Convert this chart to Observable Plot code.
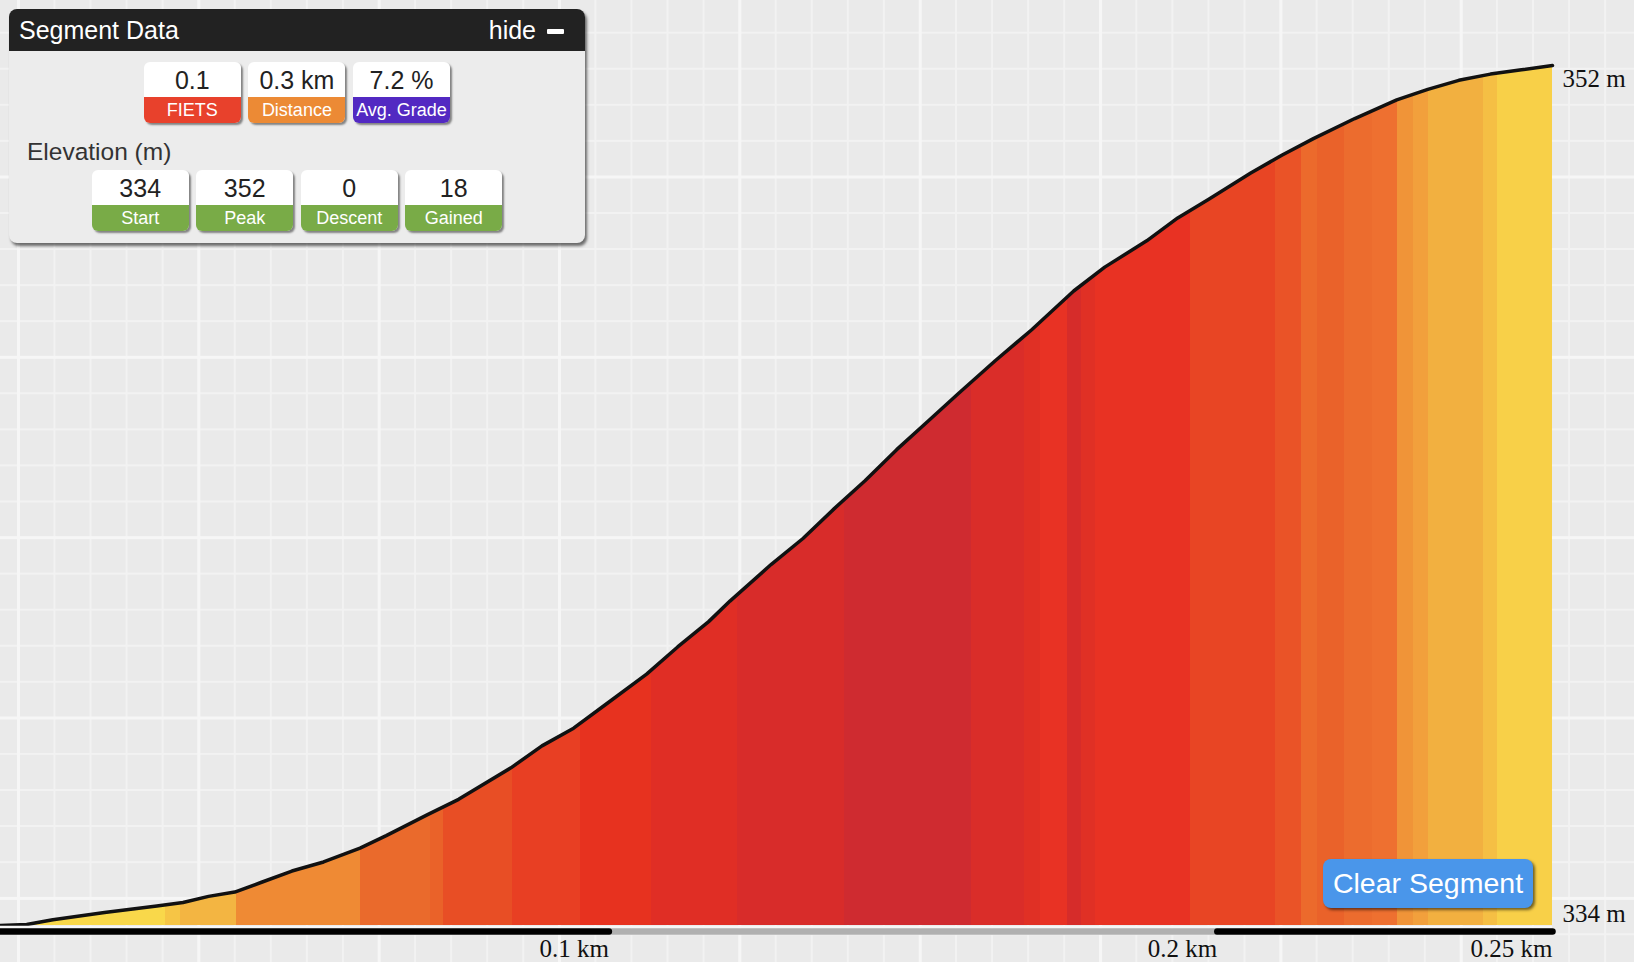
<!DOCTYPE html>
<html>
<head>
<meta charset="utf-8">
<script src="https://cdn.jsdelivr.net/npm/d3@7"></script>
<script src="https://cdn.jsdelivr.net/npm/@observablehq/plot@0.6"></script>
<style>
  html, body { margin: 0; padding: 0; overflow: hidden; }
  body {
    width: 1634px; height: 962px; position: relative;
    background-color: #eaeaea;
    background-image:
      linear-gradient(to right, #f6f6f6 0 3px, transparent 3px),
      linear-gradient(to bottom, #f6f6f6 0 3px, transparent 3px),
      linear-gradient(to right, #f2f2f2 0 2px, transparent 2px),
      linear-gradient(to bottom, #f2f2f2 0 2px, transparent 2px);
    background-size: 180.35px 100%, 100% 180.35px, 36.07px 100%, 100% 36.07px;
    background-position: 17px 0, 0 175.5px, 17.4px 0, 0 31.7px;
    font-family: "Liberation Sans", Arial, sans-serif;
  }
  #chart { position: absolute; left: 0; top: 0; }
  #panel {
    position: absolute; left: 9px; top: 9px; width: 576px; height: 234px;
    background: #ececec; border-radius: 8px;
    box-shadow: 2px 3px 3px rgba(0,0,0,0.55);
  }
  #panel .head {
    height: 42px; background: #222; border-radius: 8px 8px 0 0; color: #fff;
    font-size: 25px; line-height: 43px; padding-left: 10px; position: relative;
  }
  #panel .hide { position: absolute; right: 49px; top: 0; }
  #panel .minus { position: absolute; right: 21px; top: 20px; width: 17px; height: 5px; background: #fff; border-radius: 1px; }
  #panel .elev { position: absolute; left: 18px; top: 129px; font-size: 24.5px; color: #333; }
  .badge {
    position: absolute; width: 97px; border-radius: 6px; overflow: hidden;
    box-shadow: 2px 2px 2px rgba(0,0,0,0.45); text-align: center;
  }
  .badge .v { background: #fff; height: 35px; line-height: 36px; font-size: 25px; color: #222; }
  .badge .l { height: 26px; line-height: 27px; font-size: 18px; color: #fff; }
  #clear {
    position: absolute; left: 1323px; top: 859px; width: 210px; height: 49px;
    background: #4a96ea; color: #fff; border-radius: 8px; font-size: 28.5px;
    line-height: 49px; text-align: center; box-shadow: 2px 2px 3px rgba(0,0,0,0.55);
  }
</style>
</head>
<body>
<div id="chart"></div>
<div id="panel">
  <div class="head">Segment Data<span class="hide">hide</span><span class="minus"></span></div>
  <div class="elev">Elevation (m)</div>
</div>
<div id="clear">Clear Segment</div>
<script>
// elevation profile
const distanceKm = [0, 0.0043, 0.0086, 0.0171, 0.0257, 0.0300, 0.0342, 0.0385, 0.0428, 0.0479,
  0.0531, 0.0591, 0.0634, 0.0702, 0.0753, 0.0839, 0.0890, 0.0942, 0.0993, 0.1062,
  0.1113, 0.1164, 0.1199, 0.1267, 0.1319, 0.1370, 0.1421, 0.1473, 0.1524, 0.1575,
  0.1635, 0.1695, 0.1764, 0.1815, 0.1884, 0.1935, 0.1986, 0.2055, 0.2106, 0.2158,
  0.2226, 0.2295, 0.2346, 0.2397, 0.2449, 0.2500, 0.2551];
const elevationM = [334.00, 334.02, 334.12, 334.27, 334.41, 334.48, 334.61, 334.70, 334.90, 335.14,
  335.33, 335.62, 335.88, 336.32, 336.64, 337.30, 337.76, 338.13, 338.61, 339.26,
  339.83, 340.36, 340.79, 341.56, 342.10, 342.72, 343.31, 343.96, 344.55, 345.14,
  345.82, 346.47, 347.28, 347.78, 348.33, 348.81, 349.20, 349.75, 350.12, 350.47,
  350.89, 351.28, 351.50, 351.69, 351.82, 351.91, 352.00];

// grade colour bands (end of each band in km)
const bandEnds = [0.0271, 0.0296, 0.0388, 0.0592, 0.0707, 0.0728, 0.0841, 0.0953, 0.1070, 0.1211,
  0.1387, 0.1596, 0.1683, 0.1709, 0.1753, 0.1777, 0.1800, 0.1956, 0.2095, 0.2138,
  0.2164, 0.2209, 0.2255, 0.2297, 0.2322, 0.2347, 0.2437, 0.2460, 0.2551];
const bandColors = ["#f9d84a", "#f6c545", "#f3b542", "#ef8a34", "#ea6a2c", "#ea6229", "#e84e25", "#e83f23", "#e7321f", "#e02e25",
  "#d82c2a", "#cf2b30", "#da2d29", "#e03025", "#e83224", "#d62c2a", "#e03025", "#e83223", "#e84524", "#ea5327",
  "#ec6a2c", "#ea622a", "#ec6c2e", "#ee7030", "#f09438", "#f2a03c", "#f2b040", "#f5bf44", "#f8d048"];

// scale bar under the profile
const barFrom = [0, 0.1, 0.2];
const barTo = [0.1, 0.2, 0.2551];
const barColors = ["#000", "#b0b0b0", "#000"];

const xTickValues = [0.1, 0.2, 0.2551];
const xTickLabels = ["0.1 km", "0.2 km", "0.25 km"];
const yLabelValues = [352, 334];
const yLabelTexts = ["352 m", "334 m"];

// panel badges
const topValues = ["0.1", "0.3 km", "7.2 %"];
const topLabels = ["FIETS", "Distance", "Avg. Grade"];
const topColors = ["#e8412c", "#ec8a35", "#5229c2"];
const elevValues = ["334", "352", "0", "18"];
const elevLabels = ["Start", "Peak", "Descent", "Gained"];
const elevColor = "#79ab47";

const profile = distanceKm.map((d, i) => ({km: d, ele: elevationM[i]}));
const bar = barFrom.map((d, i) => ({from: d, to: barTo[i], color: barColors[i]}));
const endKm = distanceKm[distanceKm.length - 1];
const baseEle = 334;

const gradient = (index, scales) => {
  const defs = d3.create("svg:defs");
  const g = defs.append("linearGradient")
    .attr("id", "gradeFill")
    .attr("gradientUnits", "userSpaceOnUse")
    .attr("x1", scales.x(0)).attr("x2", scales.x(endKm))
    .attr("y1", 0).attr("y2", 0);
  bandEnds.forEach((e, i) => {
    const s = i === 0 ? 0 : bandEnds[i - 1];
    g.append("stop").attr("offset", s / endKm).attr("stop-color", bandColors[i]);
    g.append("stop").attr("offset", e / endKm).attr("stop-color", bandColors[i]);
  });
  return defs.node();
};

const serif = "'Liberation Serif', 'Times New Roman', serif";

let chart = Plot.plot({
  width: 1634,
  height: 962,
  marginLeft: 0,
  marginRight: 82,
  marginTop: 65,
  marginBottom: 37,
  style: {background: "transparent", overflow: "visible"},
  x: {domain: [0, endKm], axis: null},
  y: {domain: [334, 352], axis: null},
  marks: [
    gradient,
    Plot.areaY(profile, {x: "km", y1: baseEle, y2: "ele", fill: "url(#gradeFill)"}),
    Plot.line(profile, {x: "km", y: "ele", stroke: "#111", strokeWidth: 3.5, strokeLinejoin: "round"}),
    Plot.ruleY([baseEle], {x1: 0, x2: endKm, stroke: "#f6f6f6", strokeWidth: 2.5, dy: 1.5}),
    Plot.link(bar.filter(d => d.color !== "#000"), {x1: "from", x2: "to", y1: baseEle, y2: baseEle, stroke: "#b0b0b0", strokeWidth: 6.5, dy: 6}),
    Plot.link(bar.filter(d => d.color === "#000"), {x1: "from", x2: "to", y1: baseEle, y2: baseEle, stroke: "#000", strokeWidth: 6.5, strokeLinecap: "round", dy: 6}),
    Plot.text(xTickValues, {x: d => d, y: baseEle, text: (d, i) => xTickLabels[i], textAnchor: "end", dy: 23, fontSize: 25, fontFamily: serif, fill: "#111"}),
    Plot.text([yLabelValues[0]], {x: endKm, y: d => d, text: [yLabelTexts[0]], textAnchor: "start", lineAnchor: "top", dx: 10, dy: 4, fontSize: 25, fontFamily: serif, fill: "#111"}),
    Plot.text([yLabelValues[1]], {x: endKm, y: d => d, text: [yLabelTexts[1]], textAnchor: "start", lineAnchor: "bottom", dx: 10, dy: -4, fontSize: 25, fontFamily: serif, fill: "#111"})
  ]
});

d3.select("#chart").append(() => chart);

// badges in the segment panel
const panel = d3.select("#panel");
function badge(left, top, value, label, color) {
  const b = panel.append("div").attr("class", "badge").style("left", left + "px").style("top", top + "px");
  b.append("div").attr("class", "v").text(value);
  b.append("div").attr("class", "l").style("background", color).text(label);
}
topValues.forEach((v, i) => badge(134.8 + i * 104.6, 52.5, v, topLabels[i], topColors[i]));
elevValues.forEach((v, i) => badge(82.7 + i * 104.5, 161, v, elevLabels[i], elevColor));
</script>
</body>
</html>
